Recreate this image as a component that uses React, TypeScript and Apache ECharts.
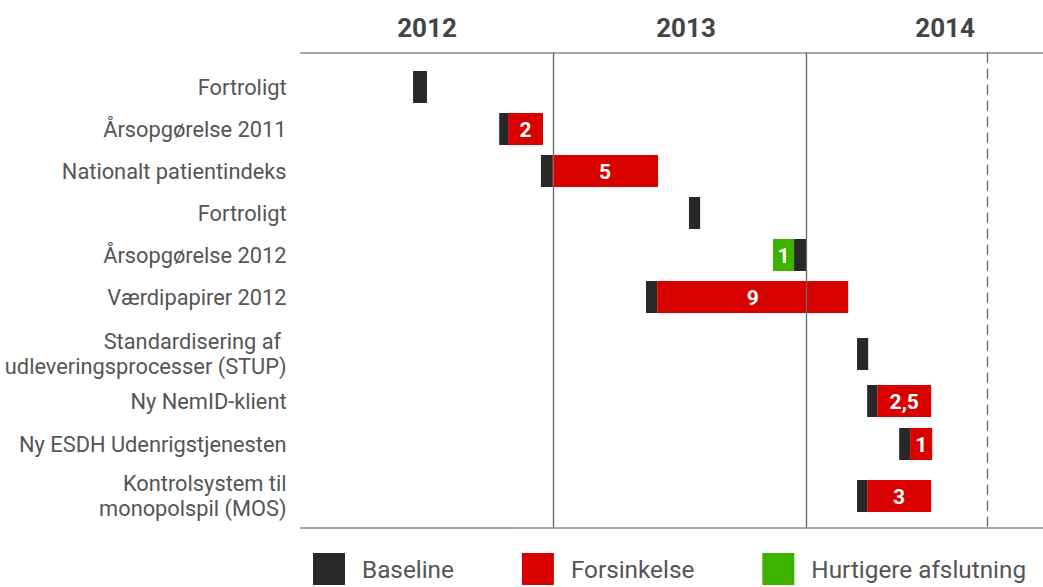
import React, { useEffect, useRef } from "react";
import * as echarts from "echarts";

// Months counted from 1 January 2012
const projects = [
  "Fortroligt",
  "Årsopgørelse 2011",
  "Nationalt patientindeks",
  "Fortroligt",
  "Årsopgørelse 2012",
  "Værdipapirer 2012",
  "Standardisering af \nudleveringsprocesser (STUP)",
  "Ny NemID-klient",
  "Ny ESDH Udenrigstjenesten",
  "Kontrolsystem til\nmonopolspil (MOS)",
];
const baselineStart = [5.34, 9.43, 11.41, 18.44, 23.43, 16.4, 26.42, 26.9, 28.42, 26.42];
const baselineEnd = [6.0, 9.85, 11.94, 18.97, 24.03, 16.93, 26.95, 27.38, 28.94, 26.9];
// positive = delay (after baseline), negative = finished earlier (before baseline)
const deviation = [0, 1.66, 5.03, 0, -1.0, 9.07, 0, 2.56, 1.05, 3.04];
const deviationLabel = ["", "2", "5", "", "1", "9", "", "2,5", "1", "3"];

const yearLabels = ["2012", "2013", "2014"];
const yearLabelPos = [6, 18.3, 30.6];
const yearBoundaries = [12, 24];
const todayMarker = 32.6;

// layout: vertical slot of each row (row units)
const rowSlots = [0, 1, 2, 3, 4, 5, 6.357, 7.476, 8.5, 9.738];

const FONT = "Roboto, 'Liberation Sans', sans-serif";
const C_BASE = "#282828";
const C_DELAY = "#d90000";
const C_FAST = "#3db300";

function nearestIndex(arr: number[], v: number) {
  let best = 0;
  for (let i = 1; i < arr.length; i++) {
    if (Math.abs(arr[i] - v) < Math.abs(arr[best] - v)) best = i;
  }
  return best;
}

export default function App() {
  const ref = useRef<HTMLDivElement>(null);

  useEffect(() => {
    if (!ref.current) return;
    const chart = echarts.init(ref.current, null, { renderer: "svg" });

    // [start, end, slot, rowIndex, showLabel]
    const baseData = projects.map((_, i) => [baselineStart[i], baselineEnd[i], rowSlots[i], i, 0]);
    const delayData: any[] = [];
    const fastData: any[] = [];
    projects.forEach((_, i) => {
      if (deviation[i] > 0) {
        delayData.push([baselineEnd[i], baselineEnd[i] + deviation[i], rowSlots[i], i, 1]);
      } else if (deviation[i] < 0) {
        fastData.push([baselineStart[i] + deviation[i], baselineStart[i], rowSlots[i], i, 1]);
      }
    });

    const renderItem = (params: any, api: any) => {
      const s = api.coord([api.value(0), api.value(2)]);
      const e = api.coord([api.value(1), api.value(2)]);
      const h = 32;
      const row = api.value(3);
      const showLabel = api.value(4) === 1;
      const label = showLabel ? deviationLabel[row] : "";
      const children: any[] = [
        {
          type: "rect",
          shape: { x: s[0], y: s[1] - h / 2, width: e[0] - s[0], height: h },
          style: { fill: api.visual("color") },
        },
      ];
      if (label) {
        children.push({
          type: "text",
          x: (s[0] + e[0]) / 2,
          y: s[1] + 1,
          style: {
            text: String(label),
            fill: "#ffffff",
            fontSize: 21,
            fontWeight: "bold",
            fontFamily: FONT,
            align: "center",
            verticalAlign: "middle",
          },
        });
      }
      return { type: "group", children };
    };

    const commonSeries = {
      type: "custom" as const,
      renderItem,
      encode: { x: [0, 1], y: 2 },
    };

    chart.setOption({
      animation: false,
      backgroundColor: "#ffffff",
      textStyle: { fontFamily: FONT },
      grid: {
        left: 300.6,
        right: 0,
        top: 52.7,
        bottom: 59.7,
        containLabel: false,
        outerBoundsMode: "none",
      },
      legend: {
        left: 313,
        top: 553,
        padding: 0,
        icon: "rect",
        itemWidth: 32,
        itemHeight: 32,
        itemGap: 68,
        data: ["Baseline", "Forsinkelse", "Hurtigere afslutning"],
        textStyle: { fontSize: 24.3, color: "#555", fontFamily: FONT, padding: [0, 0, 0, 12] },
      },
      xAxis: [
        {
          type: "value",
          position: "top",
          min: 0,
          max: 35.25,
          axisLine: { show: true, onZero: false, lineStyle: { color: "#888", width: 1.5 } },
          axisTick: { show: false },
          splitLine: { show: false },
          axisLabel: {
            customValues: yearLabelPos,
            formatter: (v: number) => yearLabels[nearestIndex(yearLabelPos, v)],
            fontSize: 26,
            fontWeight: "bold",
            color: "#444",
            fontFamily: FONT,
            margin: 12,
          },
        },
        {
          type: "value",
          position: "bottom",
          min: 0,
          max: 35.25,
          axisLine: { show: true, onZero: false, lineStyle: { color: "#888", width: 1.5 } },
          axisTick: { show: false },
          splitLine: { show: false },
          axisLabel: { show: false },
        },
      ],
      yAxis: {
        type: "value",
        inverse: true,
        min: -0.817,
        max: 10.483,
        axisLine: { show: false },
        axisTick: { show: false },
        splitLine: { show: false },
        axisLabel: {
          customValues: rowSlots,
          formatter: (v: number) => projects[nearestIndex(rowSlots, v)],
          fontSize: 21.8,
          lineHeight: 25,
          color: "#555",
          fontFamily: FONT,
          align: "right",
          margin: 14,
        },
      },
      series: [
        {
          ...commonSeries,
          name: "Baseline",
          itemStyle: { color: C_BASE },
          data: baseData,
          z: 3,
          markLine: {
            silent: true,
            symbol: "none",
            label: { show: false },
            data: [
              ...yearBoundaries.map((v) => ({ xAxis: v, lineStyle: { color: "#666", width: 1.3, type: "solid" } })),
              { xAxis: todayMarker, lineStyle: { color: "#666", width: 1.3, type: [10, 6] } },
            ],
          },
        },
        { ...commonSeries, name: "Forsinkelse", itemStyle: { color: C_DELAY }, data: delayData, z: 4 },
        { ...commonSeries, name: "Hurtigere afslutning", itemStyle: { color: C_FAST }, data: fastData, z: 4 },
      ],
    });

    return () => chart.dispose();
  }, []);

  return (
    <div
      ref={ref}
      style={{ position: "fixed", left: 0, top: 0, width: 1043, height: 587, background: "#fff" }}
    />
  );
}
